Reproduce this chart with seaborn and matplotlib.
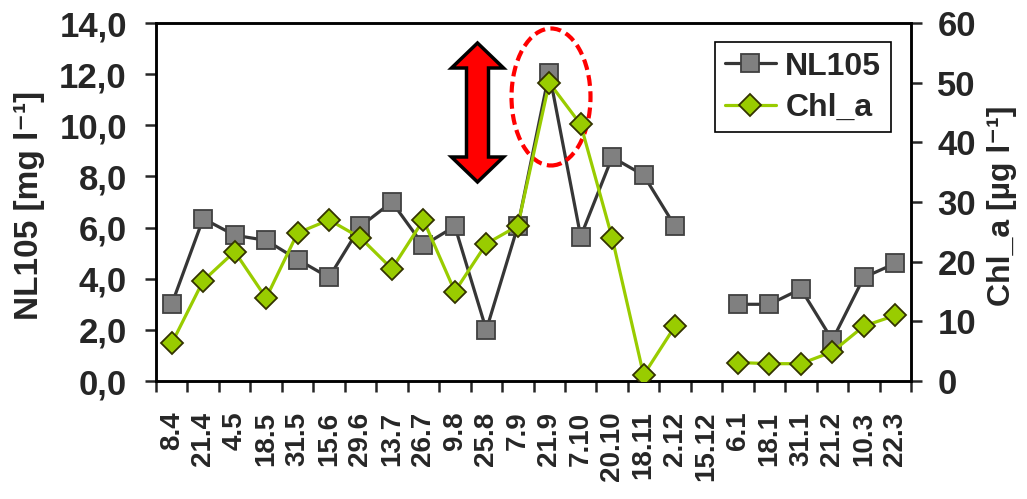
import numpy as np
import pandas as pd
import matplotlib
matplotlib.use("Agg")
import matplotlib.pyplot as plt
import seaborn as sns
from matplotlib.patches import Ellipse, Polygon
from matplotlib.ticker import FixedLocator, FuncFormatter

# Sampling dates (day.month) and measured series; 15.12 has no sample
dates = ["8.4", "21.4", "4.5", "18.5", "31.5", "15.6", "29.6", "13.7", "26.7",
         "9.8", "25.8", "7.9", "21.9", "7.10", "20.10", "18.11", "2.12", "15.12",
         "6.1", "18.1", "31.1", "21.2", "10.3", "22.3"]
nl105 = [3.0, 6.35, 5.7, 5.5, 4.75, 4.05, 6.05, 7.0, 5.3, 6.05, 2.0, 6.05,
         12.05, 5.65, 8.75, 8.05, 6.05, np.nan, 3.0, 3.0, 3.6, 1.6, 4.05, 4.6]
chl_a = [6.3, 16.8, 21.7, 13.9, 24.8, 27.0, 24.0, 18.8, 27.0, 15.0, 23.0, 26.0,
         50.0, 43.0, 24.0, 1.0, 9.2, np.nan, 3.1, 2.9, 2.9, 4.9, 9.2, 11.0]

left_ticks = [0, 2, 4, 6, 8, 10, 12, 14]
right_ticks = [0, 10, 20, 30, 40, 50, 60]

df = pd.DataFrame({"pos": np.arange(len(dates)), "date": dates,
                   "NL105": nl105, "Chl_a": chl_a})
# break the lines where a sample is missing
df["segment"] = df["NL105"].isna().cumsum()

sns.set_style("ticks")
plt.rcParams["font.family"] = ["Liberation Sans", "DejaVu Sans"]
plt.rcParams["font.weight"] = "bold"

W, H = 1027, 499
fig = plt.figure(figsize=(W / 100, H / 100), dpi=100)
ax = fig.add_axes([156 / W, 1 - 381 / H, (911 - 156) / W, (381 - 23) / H])
ax2 = ax.twinx()

gray_line = "#363636"
gray_face = "#808080"
green = "#99cc00"
green_edge = "#333300"

sns.lineplot(data=df, x="pos", y="NL105", units="segment", estimator=None,
             ax=ax, color=gray_line, linewidth=2.3, marker="s", markersize=13.5,
             markerfacecolor=gray_face, markeredgecolor="#404040",
             markeredgewidth=1.3, legend=False, zorder=3)
sns.lineplot(data=df, x="pos", y="Chl_a", units="segment", estimator=None,
             ax=ax2, color=green, linewidth=2.3, marker="D", markersize=11.5,
             markerfacecolor=green, markeredgecolor=green_edge,
             markeredgewidth=1.3, legend=False, zorder=3)

ax.set_xlim(-0.5, len(dates) - 0.5)
ax.set_ylim(0, 14)
ax2.set_ylim(0, 60)

lw_axis = 1.8
for a in (ax, ax2):
    for s in a.spines.values():
        s.set_linewidth(lw_axis)
        s.set_color("black")
        s.set_visible(True)

# category boundaries carry the tick marks, centres carry the labels
ax.xaxis.set_major_locator(FixedLocator(np.arange(-0.5, len(dates), 1.0)))
ax.xaxis.set_major_formatter(FuncFormatter(lambda v, p: ""))
ax.set_xticks(df["pos"], labels=dates, minor=True)
ax.tick_params(axis="x", which="major", direction="out", length=8, width=1.8)
ax.tick_params(axis="x", which="minor", length=0, pad=22, labelsize=20,
               labelrotation=90)
for t in ax.get_xticklabels(minor=True):
    t.set_fontweight("bold")

ax.set_yticks(left_ticks)
ax.yaxis.set_major_formatter(FuncFormatter(lambda v, p: f"{v:.1f}".replace(".", ",")))
ax.tick_params(axis="y", direction="out", length=8, width=1.8, pad=13, labelsize=25)
ax2.set_yticks(right_ticks)
ax2.tick_params(axis="y", direction="out", length=8, width=1.8, pad=11, labelsize=25)

ax.set_xlabel("")
ax.set_ylabel("NL105 [mg l\u207b\u00b9]", fontsize=24, fontweight="bold")
ax.yaxis.set_label_coords((45 - 156) / 755, 0.49)
ax2.set_ylabel("Chl_a [\u00b5g l\u207b\u00b9]", fontsize=23, fontweight="bold",
               rotation=90)
ax2.yaxis.set_label_coords((987 - 156) / 755, 0.49)

# double-headed red arrow (figure pixel geometry)
cx, top, bot = 477.5, 43, 182
hw, sw, hl = 26, 11, 25
pts_px = [(cx, top), (cx + hw, top + hl), (cx + sw, top + hl), (cx + sw, bot - hl),
          (cx + hw, bot - hl), (cx, bot), (cx - hw, bot - hl), (cx - sw, bot - hl),
          (cx - sw, top + hl), (cx - hw, top + hl)]
pts_in = [(x / 100, (H - y) / 100) for x, y in pts_px]
arrow = Polygon(pts_in, closed=True, facecolor="#ff0000", edgecolor="black",
                linewidth=2.5, transform=fig.dpi_scale_trans, zorder=5)
ax.add_patch(arrow)

# dashed ellipse around the autumn peak
ell = Ellipse((551 / 100, (H - 97) / 100), 79 / 100, 137 / 100, fill=False,
              edgecolor="#ff0000", linewidth=3, linestyle=(0, (2.6, 1.3)),
              transform=fig.dpi_scale_trans, zorder=5)
ax.add_patch(ell)

handles = [ax.lines[0], ax2.lines[0]]
leg = ax2.legend(handles, ["NL105", "Chl_a"], loc="upper left",
                 bbox_to_anchor=((715 - 156) / 755, (381 - 42) / 358),
                 borderaxespad=0, frameon=True, fancybox=False,
                 handlelength=1.6, handletextpad=0.3, labelspacing=0.35,
                 borderpad=0.3, prop={"weight": "bold", "size": 23})
leg.get_frame().set_edgecolor("black")
leg.get_frame().set_linewidth(1.2)
leg.get_frame().set_alpha(1)

fig.savefig("out.png", dpi=100)
